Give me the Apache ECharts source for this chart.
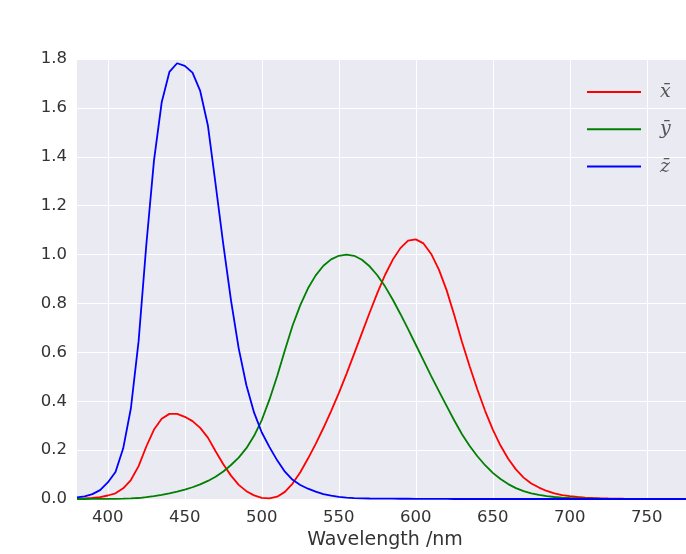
<!DOCTYPE html>
<html>
<head>
<meta charset="utf-8">
<script src="https://cdn.jsdelivr.net/npm/echarts@6/dist/echarts.min.js"></script>
<style>html,body{margin:0;padding:0;background:#fff}#c{width:686px;height:554px}</style>
</head>
<body>
<div id="c"></div>
<script>
var wavelengths = [];
for (var w = 380; w <= 780; w += 5) wavelengths.push(w);

var xbar = [0.001368,0.002236,0.004243,0.00765,0.01431,0.02319,0.04351,0.07763,0.13438,0.21477,0.2839,0.3285,0.34828,0.34806,0.3362,0.3187,0.2908,0.2511,0.19536,0.1421,0.09564,0.05795,0.03201,0.0147,0.0049,0.0024,0.0093,0.0291,0.06327,0.1096,0.1655,0.22575,0.2904,0.3597,0.43345,0.51205,0.5945,0.6784,0.7621,0.8425,0.9163,0.9786,1.0263,1.0567,1.0622,1.0456,1.0026,0.9384,0.85445,0.7514,0.6424,0.5419,0.4479,0.3608,0.2835,0.2187,0.1649,0.1212,0.0874,0.0636,0.04677,0.0329,0.0227,0.01584,0.011359,0.008111,0.00579,0.004109,0.002899,0.002049,0.00144,0.001,0.00069,0.000476,0.000332,0.000235,0.000166,0.000117,0.000083,0.000059,0.000042];
var ybar = [0.000039,0.000064,0.00012,0.000217,0.000396,0.00064,0.00121,0.00218,0.004,0.0073,0.0116,0.01684,0.023,0.0298,0.038,0.048,0.06,0.0739,0.09098,0.1126,0.13902,0.1693,0.20802,0.2586,0.323,0.4073,0.503,0.6082,0.71,0.7932,0.862,0.91485,0.954,0.9803,0.99495,1.0,0.995,0.9786,0.952,0.9154,0.87,0.8163,0.757,0.6949,0.631,0.5668,0.503,0.4412,0.381,0.321,0.265,0.217,0.175,0.1382,0.107,0.0816,0.061,0.04458,0.032,0.0232,0.017,0.01192,0.00821,0.005723,0.004102,0.002929,0.002091,0.001484,0.001047,0.00074,0.00052,0.000361,0.000249,0.000172,0.00012,0.000085,0.00006,0.000042,0.00003,0.000021,0.000015];
var zbar = [0.00645,0.01055,0.02005,0.03621,0.06785,0.1102,0.2074,0.3713,0.6456,1.03905,1.3856,1.62296,1.74706,1.7826,1.77211,1.7441,1.6692,1.5281,1.28764,1.0419,0.81295,0.6162,0.46518,0.3533,0.272,0.2123,0.1582,0.1117,0.07825,0.05725,0.04216,0.02984,0.0203,0.0134,0.00875,0.00575,0.0039,0.00275,0.0021,0.0018,0.00165,0.0014,0.0011,0.001,0.0008,0.0006,0.00034,0.00024,0.00019,0.0001,0.00005,0.00003,0.00002,0.00001,0,0,0,0,0,0,0,0,0,0,0,0,0,0,0,0,0,0,0,0,0,0,0,0,0,0,0];

var seriesNames = ['x\u0304', 'y\u0304', 'z\u0304'];
var seriesColors = ['#ff0000', '#007f00', '#0000ff'];

function pairs(vals) {
  return wavelengths.map(function (w, i) { return [w, vals[i]]; });
}

var tr = 'rgba(0,0,0,0)';
var chart = echarts.init(document.getElementById('c'), null, {renderer: 'canvas'});
chart.setOption({
  backgroundColor: '#ffffff',
  animation: false,
  grid: {
    left: 77, top: 59, bottom: 55, width: 616,
    outerBoundsMode: 'none', containLabel: false,
    show: true, backgroundColor: '#eaeaf2', borderWidth: 0
  },
  legend: {
    orient: 'vertical', left: 582, top: 77,
    icon: 'rect', itemWidth: 54, itemHeight: 2, itemGap: 17.3,
    data: seriesNames,
    textStyle: {fontFamily: 'DejaVu Serif', fontStyle: 'italic', fontSize: 19, color: '#555', lineHeight: 20, padding: [0, 0, 0, 14]}
  },
  xAxis: {
    type: 'value', min: 380, max: 780, interval: 10,
    name: 'Wavelength /nm', nameLocation: 'middle', nameGap: 32,
    nameTextStyle: {fontFamily: 'DejaVu Sans', fontSize: 19, color: '#333'},
    axisLine: {show: false}, axisTick: {show: false},
    axisLabel: {
      margin: 10, fontFamily: 'DejaVu Sans', fontSize: 16.5, color: '#333',
      formatter: function (v) { return (Math.round(v) % 50 === 0) ? String(Math.round(v)) : ''; }
    },
    splitLine: {show: true, lineStyle: {color: [tr, tr, '#ffffff', tr, tr], width: 1}}
  },
  yAxis: {
    type: 'value', min: 0, max: 1.8, interval: 0.2,
    axisLine: {show: false}, axisTick: {show: false},
    axisLabel: {
      margin: 10, fontFamily: 'DejaVu Sans', fontSize: 16.5, color: '#333',
      formatter: function (v) { return v.toFixed(1); }
    },
    splitLine: {show: true, lineStyle: {color: '#ffffff', width: 1}}
  },
  series: [xbar, ybar, zbar].map(function (vals, i) {
    return {
      name: seriesNames[i], type: 'line', data: pairs(vals),
      showSymbol: false, symbol: 'none',
      itemStyle: {color: seriesColors[i]},
      lineStyle: {color: seriesColors[i], width: 1.8}
    };
  })
});
</script>
</body>
</html>
